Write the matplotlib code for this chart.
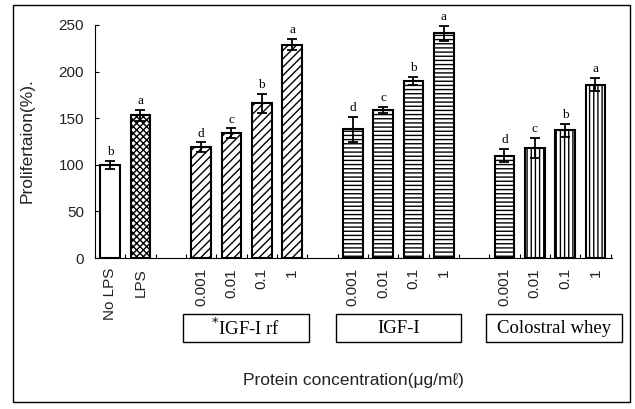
import numpy as np
import matplotlib
matplotlib.use("Agg")
import matplotlib.pyplot as plt
from matplotlib.patches import Rectangle
import matplotlib.transforms as mtransforms

# 막대 데이터
labels = ["No LPS", "LPS",
          "0.001", "0.01", "0.1", "1",
          "0.001", "0.01", "0.1", "1",
          "0.001", "0.01", "0.1", "1"]
slots = [0, 1, 3, 4, 5, 6, 8, 9, 10, 11, 13, 14, 15, 16]
values = [100, 153, 119, 134, 166, 229, 138, 159, 190, 241, 110, 118, 137, 186]
errors = [4, 6, 5, 5, 10, 6, 13, 3, 4, 8, 7, 11, 7, 7]
letters = ["b", "a", "d", "c", "b", "a", "d", "c", "b", "a", "d", "c", "b", "a"]
hatches = ["", "xxxxx", "////", "////", "////", "////",
           "----", "----", "----", "----", "----", "||||", "||||", "||||"]
groups = ["$^{*}$IGF-I rf", "IGF-I", "Colostral whey"]
group_spans = [(2.39, 6.56), (7.44, 11.57), (12.39, 16.88)]

plt.rcParams["hatch.linewidth"] = 1.0
sans = ["Liberation Sans", "DejaVu Sans"]
serif = ["Liberation Serif", "DejaVu Serif"]

fig = plt.figure(figsize=(6.35, 4.09), dpi=100)
ax = fig.add_axes([0.1496, 0.369, 0.8144, 0.570])

ax.bar(slots, values, width=0.64, color="white", edgecolor="black",
       linewidth=1.5, hatch=hatches, zorder=2)
ax.errorbar(slots, values, yerr=errors, fmt="none", ecolor="black",
            elinewidth=1.3, capsize=3.5, capthick=1.3, zorder=3)
for x, v, e, t in zip(slots, values, errors, letters):
    ax.annotate(t, (x, v + e), xytext=(0, 2), textcoords="offset points",
                ha="center", va="bottom", fontsize=9.5, family=serif)

ax.set_xlim(-0.4, 16.55)
ax.set_ylim(0, 250)
ax.set_yticks(range(0, 251, 50))
ax.tick_params(axis="y", direction="in", length=3, labelsize=11, pad=8,
               labelcolor="#222222")
for lab in ax.get_yticklabels():
    lab.set_family(sans)
ax.set_xticks(np.arange(-0.5, 17, 1))
ax.set_xticklabels([])
ax.tick_params(axis="x", direction="in", length=3)
for s in ["top", "right"]:
    ax.spines[s].set_visible(False)

trans = mtransforms.blended_transform_factory(ax.transData, ax.transAxes)
for x, t in zip(slots, labels):
    ax.text(x, -0.043, t, transform=trans, rotation=90, ha="center", va="top",
            fontsize=11, family=sans, color="#222222")

for name, (x0, x1) in zip(groups, group_spans):
    ax.add_patch(Rectangle((x0, -0.361), x1 - x0, 0.121, transform=trans,
                           fill=False, edgecolor="black", linewidth=1.0,
                           clip_on=False))
    ax.text((x0 + x1) / 2, -0.30, name, transform=trans, ha="center",
            va="center", fontsize=13.5, family=serif)

ax.set_ylabel("Prolifertaion(%).", fontsize=12.5, family=sans, color="#222222")
ax.yaxis.set_label_coords(-0.116, 0.506)
ax.text(0.5, -0.524, "Protein concentration(\u03bcg/m\u2113)", transform=ax.transAxes,
        ha="center", va="center", fontsize=12.5, family=sans, color="#222222")

# 바깥 테두리
fig.patches.append(Rectangle((0.020, 0.017), 0.972, 0.971, transform=fig.transFigure,
                             fill=False, edgecolor="black", linewidth=1.0))

fig.savefig("out.png", dpi=100)
